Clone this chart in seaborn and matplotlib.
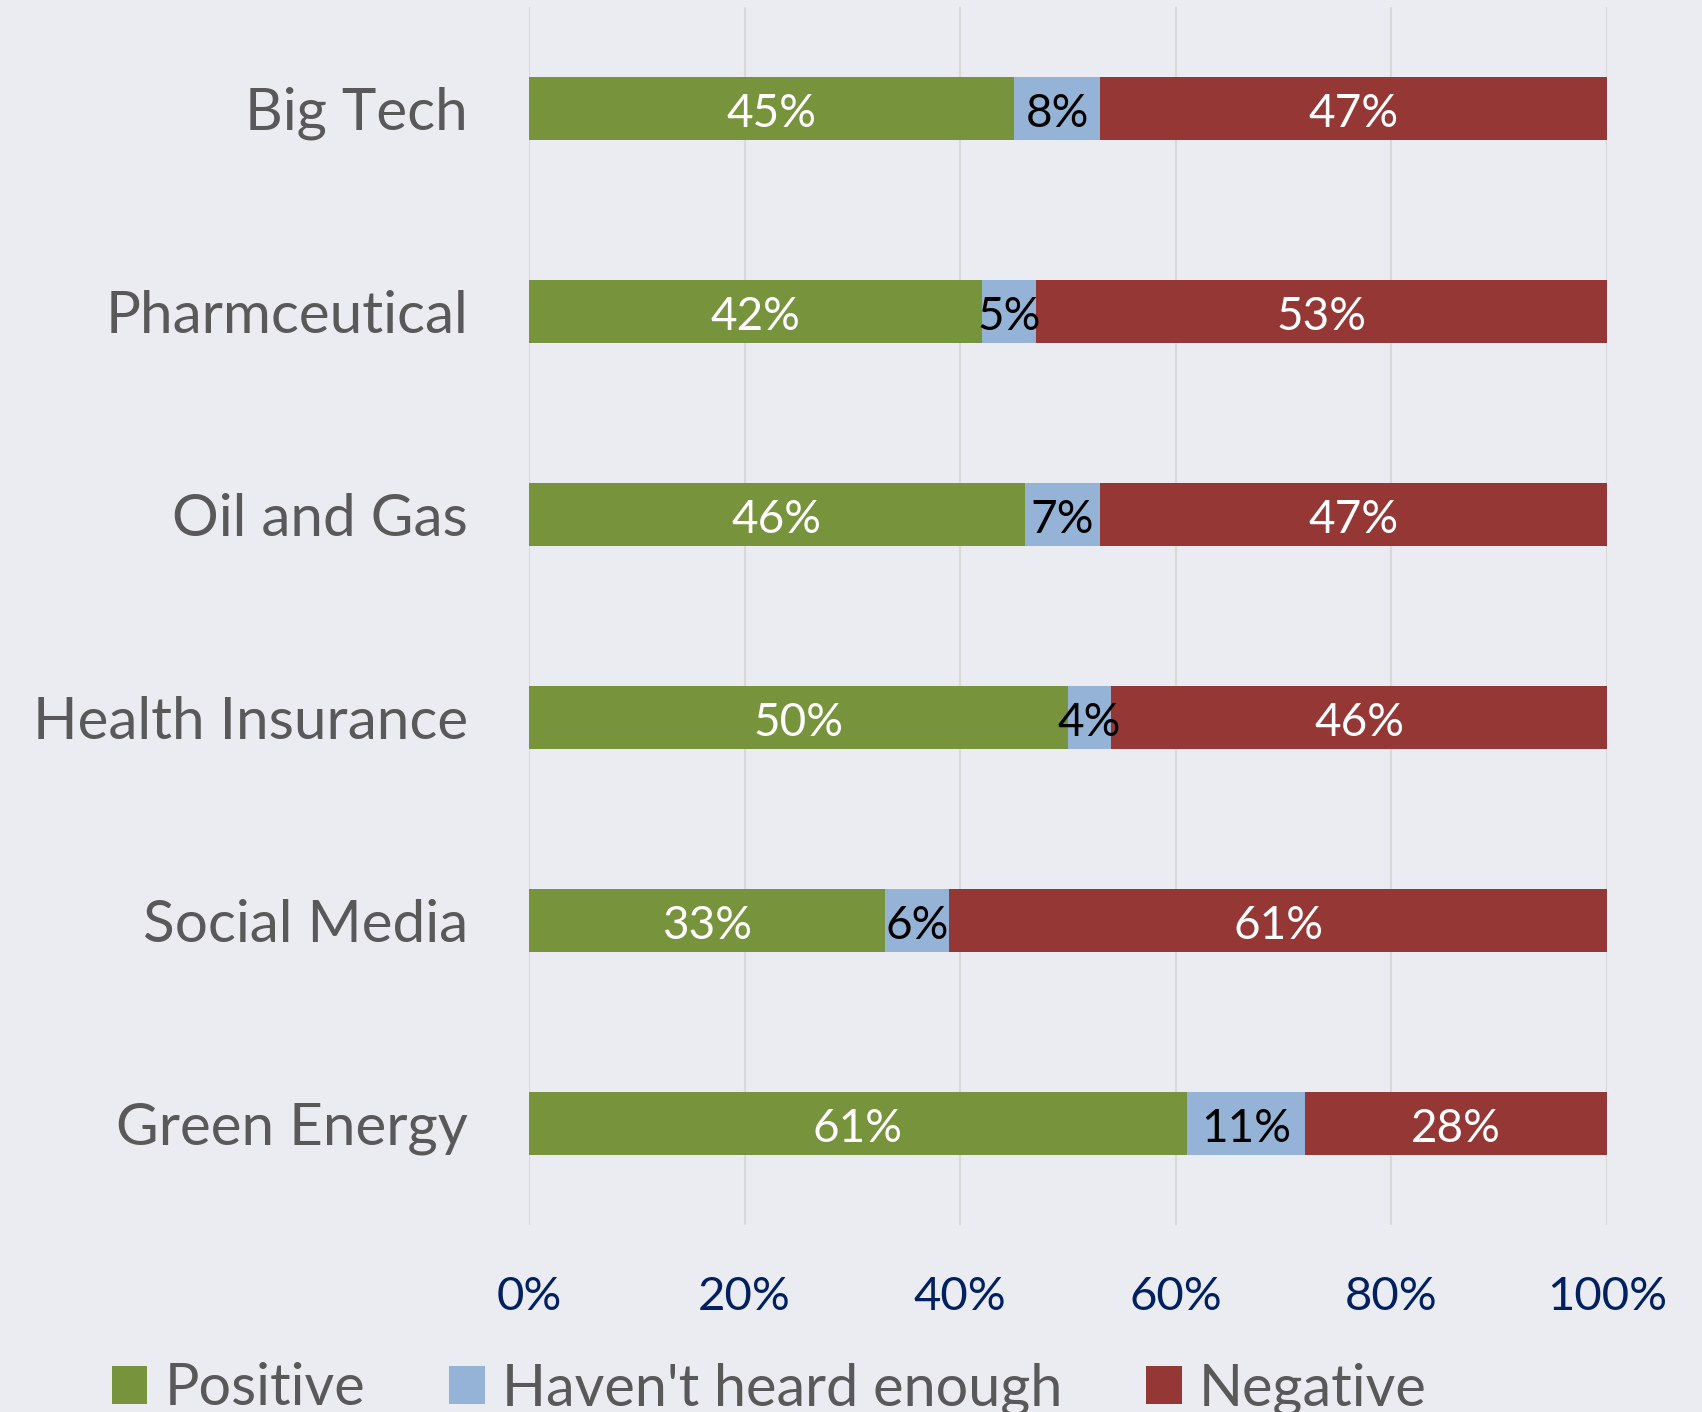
import numpy as np
import pandas as pd
import matplotlib.pyplot as plt
import seaborn as sns
from matplotlib.patches import Patch

# chart data
categories = ["Big Tech", "Pharmceutical", "Oil and Gas", "Health Insurance", "Social Media", "Green Energy"]
positive = [45, 42, 46, 50, 33, 61]
not_heard = [8, 5, 7, 4, 6, 11]
negative = [47, 53, 47, 46, 61, 28]
series_names = ["Positive", "Haven't heard enough", "Negative"]
xticks = [0, 20, 40, 60, 80, 100]
xtick_labels = ["0%", "20%", "40%", "60%", "80%", "100%"]

colors = ["#77933C", "#95B3D7", "#953735"]
label_colors = ["white", "black", "white"]

sns.set_theme(style="darkgrid")
plt.rcParams["font.family"] = ["Lato", "DejaVu Sans"]
bg = "#EBEBF2"

df = pd.DataFrame({"cat": categories, "pos": positive, "mid": not_heard, "neg": negative})
df["c1"] = df["pos"]
df["c2"] = df["pos"] + df["mid"]
df["c3"] = df["pos"] + df["mid"] + df["neg"]

fig = plt.figure(figsize=(17.02, 14.12), dpi=100, facecolor=bg)
ax = fig.add_axes([529 / 1702, 1 - 1225 / 1412, (1607 - 529) / 1702, (1225 - 7) / 1412])
ax.set_facecolor(bg)

# stacked bars: draw cumulative totals back to front
for col, c in zip(["c3", "c2", "c1"], colors[::-1]):
    sns.barplot(data=df, y="cat", x=col, orient="h", color=c, width=0.315,
                saturation=1, linewidth=0, ax=ax)

# segment labels (nudged down a little so the digits sit centred in the bar)
starts = [np.zeros(len(categories)), np.array(positive), np.array(positive) + np.array(not_heard)]
vals = [positive, not_heard, negative]
for s, v, tc in zip(starts, vals, label_colors):
    for i, (x0, w) in enumerate(zip(s, v)):
        ax.text(x0 + w / 2, i + 0.027, f"{w}%", ha="center", va="center", color=tc, fontsize=33)

ax.set_xlim(0, 100)
ax.set_ylim(5.5, -0.5)
ax.set_xticks(xticks)
ax.set_xticklabels(xtick_labels, fontsize=34, color="#002060")
ax.tick_params(axis="x", length=0, pad=37)
ax.tick_params(axis="y", length=0, pad=44, labelsize=42, labelcolor="#595959")
ax.set_xlabel("")
ax.set_ylabel("")
ax.xaxis.grid(True, color="#D9D9D9", linewidth=1.6)
ax.yaxis.grid(False)
ax.set_axisbelow(True)
for sp in ax.spines.values():
    sp.set_visible(False)

# legend sits at the very bottom, descenders clipped like the original
handles = [Patch(facecolor=c, edgecolor="none") for c in colors]
fig.legend(handles, series_names, loc="center", bbox_to_anchor=(0.452, 1 - 1389 / 1412),
           ncol=3, frameon=False, fontsize=41.5, labelcolor="#595959",
           handlelength=0.62, handleheight=0.62, handletextpad=0.3, columnspacing=1.45)

fig.savefig("out.png", dpi=100, facecolor=bg)
